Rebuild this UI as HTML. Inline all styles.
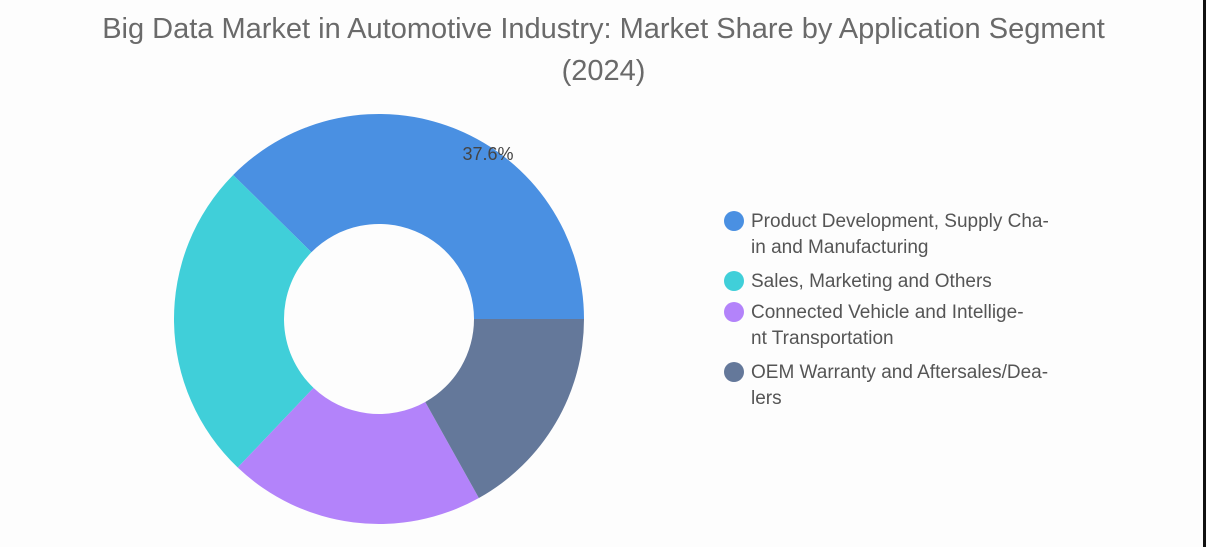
<!DOCTYPE html>
<html><head><meta charset="utf-8"><style>
body{margin:0;width:1207px;height:547px;background:#fdfdfd;overflow:hidden;font-family:"Liberation Sans",sans-serif;position:relative}
#title{position:absolute;left:0;width:1207px;top:8px;text-align:center;font-size:29px;line-height:42px;color:#6a6a6a}
.edge{position:absolute;left:1203px;top:0;width:3px;height:547px;background:#111}
</style></head><body>
<div id="title">Big Data Market in Automotive Industry: Market Share by Application Segment<br>(2024)</div>
<svg id="chart" width="1207" height="547" style="position:absolute;left:0;top:0"></svg>
<div class="edge"></div>
<script>
const categories=["Product Development, Supply Chain and Manufacturing","Sales, Marketing and Others","Connected Vehicle and Intelligent Transportation","OEM Warranty and Aftersales/Dealers"];
const values=[37.6,25.3,20.2,16.9];
const colors=["#4a90e2","#40cfd9","#b383fa","#64789a"];
const legendLines=[["Product Development, Supply Cha-","in and Manufacturing"],["Sales, Marketing and Others"],["Connected Vehicle and Intellige-","nt Transportation"],["OEM Warranty and Aftersales/Dea-","lers"]];
const NS="http://www.w3.org/2000/svg";
const svg=document.getElementById('chart');
const cx=379,cy=319,R=205,r=95;
const total=values.reduce((a,b)=>a+b,0);
let ang=0;
function pt(a,rad){return [cx+rad*Math.cos(a),cy-rad*Math.sin(a)];}
values.forEach((v,i)=>{
  const a0=ang,a1=ang+v/total*2*Math.PI;ang=a1;
  const large=(a1-a0)>Math.PI?1:0;
  const [x0,y0]=pt(a0,R),[x1,y1]=pt(a1,R),[x2,y2]=pt(a1,r),[x3,y3]=pt(a0,r);
  const p=document.createElementNS(NS,'path');
  p.setAttribute('d',`M${x0},${y0} A${R},${R} 0 ${large} 0 ${x1},${y1} L${x2},${y2} A${r},${r} 0 ${large} 1 ${x3},${y3} Z`);
  p.setAttribute('fill',colors[i]);
  
  
  svg.appendChild(p);
  if(i===0){
    const [lx,ly]=pt((a0+a1)/2,150);
    const t=document.createElementNS(NS,'text');
    t.setAttribute('x',lx+52);t.setAttribute('y',ly+ -20);
    t.setAttribute('text-anchor','middle');t.setAttribute('font-size','18');t.setAttribute('fill','#444');
    t.textContent=v.toFixed(1)+'%';
    
    
    svg.appendChild(t);
  }
});
const ly0=[221,281,312,372];
legendLines.forEach((lines,i)=>{
  const g=document.createElementNS(NS,'g');
  
  
  const c=document.createElementNS(NS,'circle');
  c.setAttribute('cx',734);c.setAttribute('cy',ly0[i]);c.setAttribute('r',10);c.setAttribute('fill',colors[i]);
  g.appendChild(c);
  lines.forEach((s,j)=>{
    const t=document.createElementNS(NS,'text');
    t.setAttribute('x',751);t.setAttribute('y',ly0[i]+6+j*26);
    t.setAttribute('font-size','19');t.setAttribute('fill','#555');
    t.textContent=s;
    g.appendChild(t);
  });
  svg.appendChild(g);
});
</script>
</body></html>
